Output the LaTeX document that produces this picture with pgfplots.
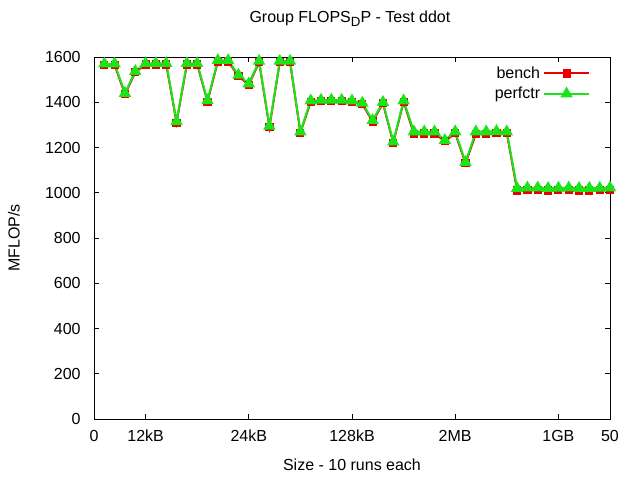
\documentclass[border=0pt]{standalone}
\usepackage{fontspec}
\setmainfont{Liberation Sans}
\usepackage{pgfplots}
\pgfplotsset{compat=1.18}
\definecolor{gpred}{RGB}{235,0,0}
\definecolor{gpgreen}{RGB}{25,230,25}
\newcommand{\gpfont}{\fontsize{12pt}{14pt}\selectfont}

\pgfplotstableread{
x bench perfctr
1 1565 1570
2 1565 1570
3 1435 1440
4 1532 1537
5 1567 1572
6 1567 1572
7 1567 1572
8 1310 1315
9 1567 1572
10 1567 1572
11 1403 1408
12 1580 1585
13 1580 1585
14 1515 1520
15 1477 1482
16 1577 1582
17 1290 1295
18 1577 1582
19 1577 1582
20 1265 1270
21 1402 1407
22 1405 1410
23 1405 1410
24 1405 1410
25 1402 1407
26 1392 1397
27 1315 1320
28 1395 1400
29 1220 1225
30 1402 1407
31 1260 1270
32 1262 1270
33 1262 1270
34 1227 1232
35 1263 1270
36 1130 1135
37 1260 1270
38 1260 1270
39 1265 1272
40 1264 1270
41 1010 1020
42 1012 1022
43 1012 1022
44 1010 1020
45 1011 1021
46 1012 1022
47 1010 1020
48 1010 1020
49 1011 1021
50 1012 1022
}\ddot

\begin{document}
\begin{tikzpicture}
\useasboundingbox (0,0) rectangle (480pt,360pt);
\begin{axis}[
  at={(70.5pt,45.75pt)}, anchor=south west,
  scale only axis, width=387pt, height=271.5pt,
  xmin=0, xmax=50, ymin=0, ymax=1600,
  xtick={0,5,15,25,35,45,50},
  xticklabels={0,12kB,24kB,128kB,2MB,1GB,50},
  ytick={0,200,...,1600},
  tick align=inside,
  major tick length=4pt,
  tick style={black, line width=0.6pt},
  axis line style={line width=0.6pt},
  /pgf/number format/assume math mode=true,
  /pgf/number format/1000 sep={},
  tick label style={font=\gpfont},
  xticklabel style={yshift=-5pt},
  yticklabel style={xshift=-6.5pt},
  title={Group FLOPS\raisebox{-0.45ex}{\fontsize{10pt}{10pt}\selectfont D}P - Test ddot},
  title style={font=\gpfont, at={(axis description cs:0.496,1.083)}, anchor=center},
  xlabel={Size - 10 runs each},
  xlabel style={font=\gpfont, at={(axis description cs:0.5,-0.127)}, anchor=center},
  ylabel={MFLOP/s},
  ylabel style={font=\gpfont, at={(axis description cs:-0.155,0.5)}, anchor=center, rotate=0},
  legend style={font=\gpfont, draw=none, fill=none, at={(0.965,0.985)}, anchor=north east,
    row sep=1pt, inner sep=1pt},
  legend cell align=right,
  legend plot pos=right,
  legend image code/.code={
    \draw[mark repeat=2,mark phase=2,#1] plot coordinates {(0cm,0cm) (0.6cm,0cm) (1.2cm,0cm)};
  },
]
\addplot[gpred, line width=1.5pt, mark=square*, mark size=2.3pt,
  mark options={solid, fill=gpred}] table[x=x, y=bench] {\ddot};
\addlegendentry{bench}
\addplot[gpgreen, line width=1.5pt, mark=triangle*, mark size=3.9pt,
  mark options={solid, fill=gpgreen}] table[x=x, y=perfctr] {\ddot};
\addlegendentry{perfctr}
\end{axis}
\end{tikzpicture}
\end{document}
